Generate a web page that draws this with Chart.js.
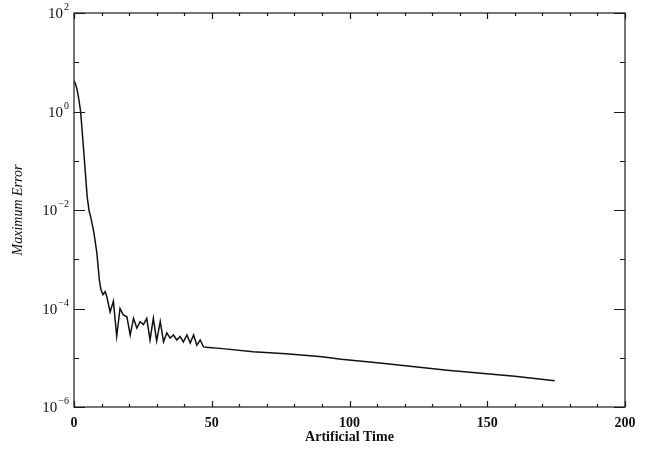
<!DOCTYPE html>
<html>
<head>
<meta charset="utf-8">
<script src="https://cdn.jsdelivr.net/npm/chart.js@4.4.1/dist/chart.umd.min.js"></script>
<style>
  html, body { margin: 0; padding: 0; background: #ffffff; }
  #wrap { width: 651px; height: 455px; position: relative; }
</style>
</head>
<body>
<div id="wrap"><canvas id="c"></canvas></div>
<script>
// Convergence history: maximum error against artificial time
const times = [
  0, 0.5, 1.0, 1.6, 2.4, 3.6, 4.8, 5.5, 6.1, 7.2, 8.3, 9.2, 9.8, 10.5,
  11.3, 11.9, 13.1, 14.3, 15.5, 16.7, 17.9, 19.2, 20.4, 21.6, 22.8, 24.0,
  25.2, 26.4, 27.6, 28.8, 30.0, 31.3, 32.5, 33.7, 34.9, 36.1, 37.3, 38.5,
  39.7, 41.0, 42.2, 43.4, 44.6, 45.8, 47.0, 49, 53, 65, 77, 90, 97, 111,
  135.5, 160, 174.5
];
const maxError = [
  4.2, 3.7, 2.95, 2.0, 1.0, 0.14, 0.018, 0.0095, 0.0071, 0.0035, 0.00135,
  3.8e-4, 2.4e-4, 1.9e-4, 2.2e-4, 1.75e-4, 8.5e-5, 1.4e-4, 2.7e-5, 1.0e-4,
  7.4e-5, 6.8e-5, 2.9e-5, 6.3e-5, 4.0e-5, 5.4e-5, 4.7e-5, 6.3e-5, 2.3e-5,
  6.3e-5, 2.2e-5, 5.4e-5, 2.1e-5, 3.2e-5, 2.5e-5, 2.9e-5, 2.3e-5, 2.7e-5,
  2.1e-5, 2.9e-5, 2.0e-5, 2.9e-5, 1.8e-5, 2.3e-5, 1.66e-5, 1.62e-5,
  1.55e-5, 1.32e-5, 1.2e-5, 1.05e-5, 9.3e-6, 7.8e-6, 5.6e-6, 4.2e-6, 3.4e-6
];
const xTickValues = [0, 50, 100, 150, 200];
const yLabelExponents = [2, 0, -2, -4, -6];
const yTickExponents = [2, 1, 0, -1, -2, -3, -4, -5, -6];
const xMinorTicks = [10, 20, 30, 40, 60, 70, 80, 90, 110, 120, 130, 140, 160, 170, 180, 190];

const SERIF = '"Liberation Serif", "DejaVu Serif", serif';

// Frame, inward ticks on all four sides and power-of-ten labels
const framePlugin = {
  id: 'frame',
  afterDatasetsDraw(chart) {
    const { ctx, chartArea: a, scales } = chart;
    const xs = scales.x, ys = scales.y;
    ctx.save();
    ctx.strokeStyle = '#1a1a1a';
    ctx.lineWidth = 1.2;
    ctx.strokeRect(a.left, a.top, a.right - a.left, a.bottom - a.top);

    ctx.beginPath();
    xMinorTicks.forEach(v => {
      const px = Math.round(xs.getPixelForValue(v)) + 0.5;
      ctx.moveTo(px, a.bottom); ctx.lineTo(px, a.bottom - 3);
      ctx.moveTo(px, a.top); ctx.lineTo(px, a.top + 3);
    });
    xTickValues.forEach(v => {
      const px = Math.round(xs.getPixelForValue(v)) + 0.5;
      ctx.moveTo(px, a.bottom); ctx.lineTo(px, a.bottom - 6);
      ctx.moveTo(px, a.top); ctx.lineTo(px, a.top + 6);
    });
    yTickExponents.forEach(e => {
      const py = Math.round(ys.getPixelForValue(Math.pow(10, e))) + 0.5;
      const len = (e % 2 === 0) ? 11 : 5;
      ctx.moveTo(a.left, py); ctx.lineTo(a.left + len, py);
      ctx.moveTo(a.right, py); ctx.lineTo(a.right - len, py);
    });
    ctx.stroke();

    ctx.fillStyle = '#111111';
    ctx.textBaseline = 'alphabetic';
    yLabelExponents.forEach(e => {
      const py = ys.getPixelForValue(Math.pow(10, e));
      const exp = e < 0 ? '\u2212' + Math.abs(e) : String(e);
      ctx.font = '10px ' + SERIF;
      const ew = ctx.measureText(exp).width;
      const expRight = a.left - 5;
      ctx.textAlign = 'left';
      ctx.fillText(exp, expRight - ew, py - 3);
      ctx.font = '15px ' + SERIF;
      ctx.textAlign = 'right';
      ctx.fillText('10', expRight - ew - 1, py + 5);
    });
    ctx.restore();
  }
};

new Chart(document.getElementById('c'), {
  type: 'line',
  data: {
    datasets: [{
      label: 'Maximum Error',
      data: times.map((t, i) => ({ x: t, y: maxError[i] })),
      borderColor: '#111111',
      borderWidth: 1.5,
      pointRadius: 0,
      tension: 0,
      fill: false
    }]
  },
  options: {
    responsive: true,
    maintainAspectRatio: false,
    animation: false,
    layout: { padding: { top: 13, right: 26, left: 0, bottom: 0 } },
    plugins: { legend: { display: false }, tooltip: { enabled: false } },
    scales: {
      x: {
        type: 'linear',
        min: 0,
        max: 200,
        afterFit: s => { s.height = 48; },
        afterBuildTicks: s => { s.ticks = xTickValues.map(v => ({ value: v })); },
        grid: { display: false, drawTicks: false },
        border: { display: false },
        ticks: {
          padding: 8,
          color: '#111111',
          font: { family: SERIF, size: 14, weight: 'bold' },
          maxRotation: 0
        },
        title: {
          display: true,
          text: 'Artificial Time',
          color: '#111111',
          font: { family: SERIF, size: 14, weight: 'bold' },
          padding: { top: 2, bottom: 9 }
        }
      },
      y: {
        type: 'logarithmic',
        min: 1e-6,
        max: 1e2,
        afterFit: s => { s.width = 74; },
        grid: { display: false, drawTicks: false },
        border: { display: false },
        ticks: { display: false },
        title: {
          display: true,
          text: 'Maximum Error',
          color: '#111111',
          font: { family: SERIF, size: 14, style: 'italic' },
          padding: { top: 10, bottom: 0 }
        }
      }
    }
  },
  plugins: [framePlugin]
});
</script>
</body>
</html>
